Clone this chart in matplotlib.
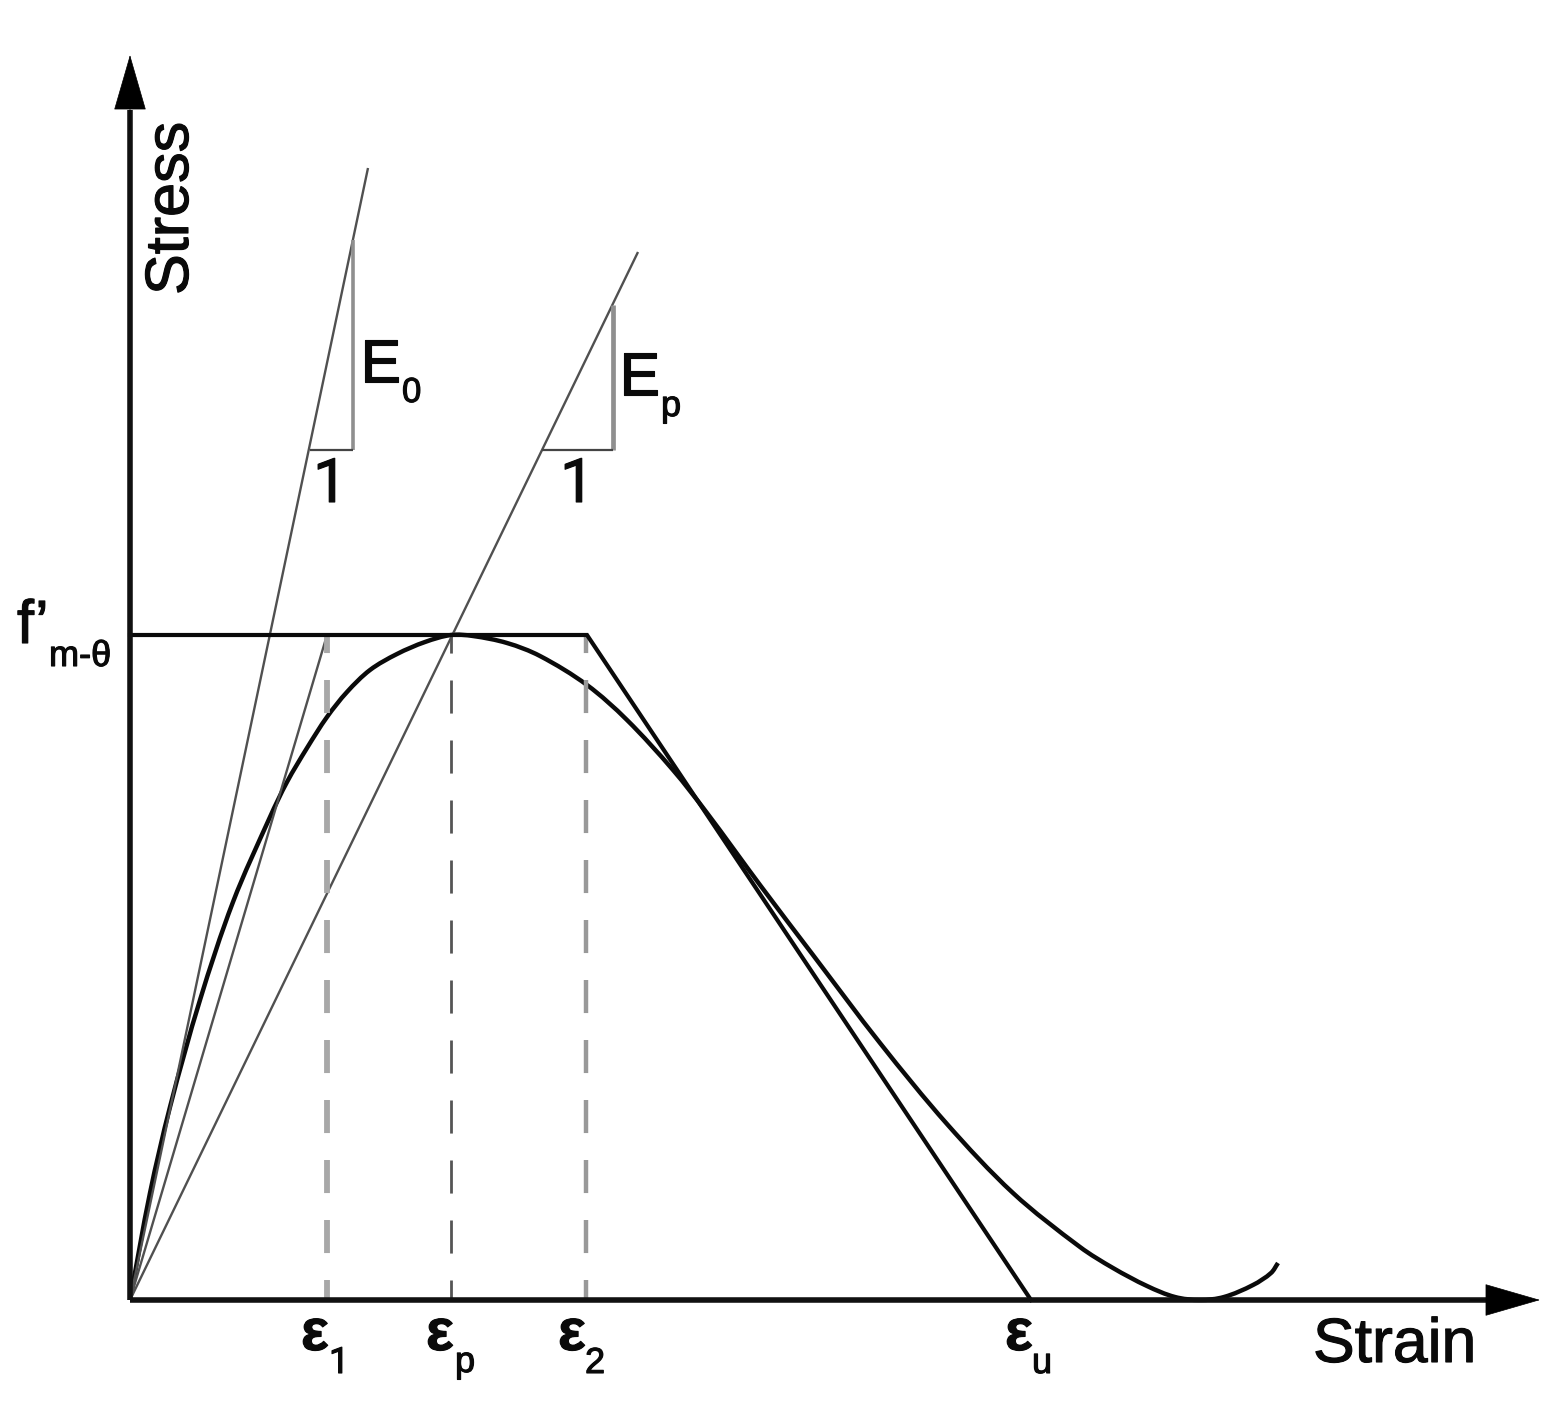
import matplotlib
matplotlib.use('Agg')
import matplotlib.pyplot as plt
import matplotlib.patheffects as pe
import numpy as np
from matplotlib.path import Path
from matplotlib.patches import PathPatch

plt.rcParams['font.family'] = ['Liberation Sans', 'DejaVu Sans']
plt.rcParams['lines.scale_dashes'] = False

W, H = 1564, 1418

# Stress-strain curve
strain = [0, .020, .040, .070, .103, .140, .157, .177, .197, .217, .240, .267, .295, .321, .343,
          .377, .410, .457, .497, .543, .577, .630, .683, .750, .817, .883, .950, .983, 1.017,
          1.045, 1.070, 1.094, 1.123, 1.141, 1.148]
stress = [0, .107, .193, .300, .398, .483, .518, .552, .583, .608, .630, .646, .658, .665, .664,
          .657, .644, .615, .580, .530, .487, .415, .345, .257, .176, .107, .053, .032, .014,
          .003, 0, .003, .015, .027, .037]

# Idealised trilinear envelope
tri_strain = [0, .457, .901]
tri_stress = [.665, .665, 0]

eps_1, eps_p, eps_2 = .197, .321, .456
f_peak = .665

# Tangent and secant lines from the origin
e0_strain, e0_stress = [0, .238], [0, 1.132]
ep_strain, ep_stress = [0, .508], [0, 1.048]
sec_strain, sec_stress = [0, eps_1], [0, f_peak]

# Slope triangles
tri0_x, tri0_y = [.180, .223], [.850, 1.060]
trip_x, trip_y = [.412, .483], [.850, .995]


def smooth_path(xs, ys):
    # bezier segments through the points, handles follow the neighbours
    p = np.column_stack([xs, ys])
    q = np.vstack([p[0], p, p[-1]])
    tang = q[2:] - q[:-2]
    tang = tang / np.linalg.norm(tang, axis=1, keepdims=True)
    verts, codes = [p[0]], [Path.MOVETO]
    for i in range(len(p) - 1):
        seg = np.linalg.norm(p[i + 1] - p[i]) / 3
        verts += [p[i] + tang[i] * seg, p[i + 1] - tang[i + 1] * seg, p[i + 1]]
        codes += [Path.CURVE4] * 3
    return Path(verts, codes)


fig = plt.figure(figsize=(W / 100, H / 100), dpi=100)
ax = fig.add_axes([0, 0, 1, 1])
ax.set_xlim(-.130, 1.434)
ax.set_ylim(-.118, 1.300)
ax.axis('off')

# thin lines
for xs, ys in [(e0_strain, e0_stress), (ep_strain, ep_stress), (sec_strain, sec_stress)]:
    ax.plot(xs, ys, color='#505050', lw=1.7, solid_capstyle='butt')

# slope triangles
for tx, ty, w in [(tri0_x, tri0_y, 2.6), (trip_x, trip_y, 3.4)]:
    ax.plot([tx[1], tx[1]], ty, color='#8f8f8f', lw=w, solid_capstyle='butt')
    ax.plot(tx, [ty[0], ty[0]], color='#444444', lw=1.6, solid_capstyle='butt')

# dashed drop lines, the pattern is measured in points
dash = (10.8, (23.8, 19.4))
for x, c, w in [(eps_1, '#a8a8a8', 4.2), (eps_p, '#555555', 2.0), (eps_2, '#999999', 3.2)]:
    ax.plot([x, x], [f_peak, 0], color=c, lw=w, linestyle=dash, dash_capstyle='butt')

ax.plot(tri_strain, tri_stress, color='#0a0a0a', lw=3.0, solid_joinstyle='miter')
ax.add_patch(PathPatch(smooth_path(strain, stress), fill=False, edgecolor='#0a0a0a', lw=3.2))

# axes with arrow heads
ax.plot([0, 1.36], [0, 0], color='#111111', lw=4.0, solid_capstyle='butt')
ax.plot([0, 0], [0, 1.19], color='#111111', lw=4.0, solid_capstyle='butt')
head = dict(arrowstyle='-|>,head_length=38,head_width=11', color='black', lw=.5,
            shrinkA=0, shrinkB=0, mutation_scale=1)
ax.annotate('', xy=(1.410, 0), xytext=(1.34, 0), arrowprops=head)
ax.annotate('', xy=(0, 1.245), xytext=(0, 1.17), arrowprops=head)

heavy = [pe.withStroke(linewidth=.8, foreground='#0a0a0a')]


def put(px, py, s, size, **kw):
    # px, py = left end of the baseline in picture pixels
    fig.text(px / W, 1 - py / H, s, fontsize=size, ha='left', va='baseline',
             rotation_mode='anchor', color='#0a0a0a', path_effects=heavy, **kw)


put(188, 295, 'Stress', 44, rotation=90)
put(1313, 1362, 'Strain', 45)

put(17, 643, 'f’', 44)
put(49, 666, 'm-θ', 26)

put(360, 382, 'E', 44)
put(402, 402, '0', 25)
put(619, 395, 'E', 44)
put(661, 416, 'p', 26)
put(313, 502, '1', 44, family='Roboto')
put(560, 502, '1', 44, family='Roboto')

for x_eps, x_sub, y_sub, sub in [(301, 329, 1373, '1'), (426, 455, 1372, 'p'),
                                 (558, 585, 1373, '2'), (1005, 1032, 1373, 'u')]:
    put(x_eps, 1350, 'ε', 42, fontweight='bold')
    put(x_sub, y_sub, sub, 26, family='Roboto' if sub == '1' else ['Liberation Sans'])

fig.savefig('out.png', dpi=100)
